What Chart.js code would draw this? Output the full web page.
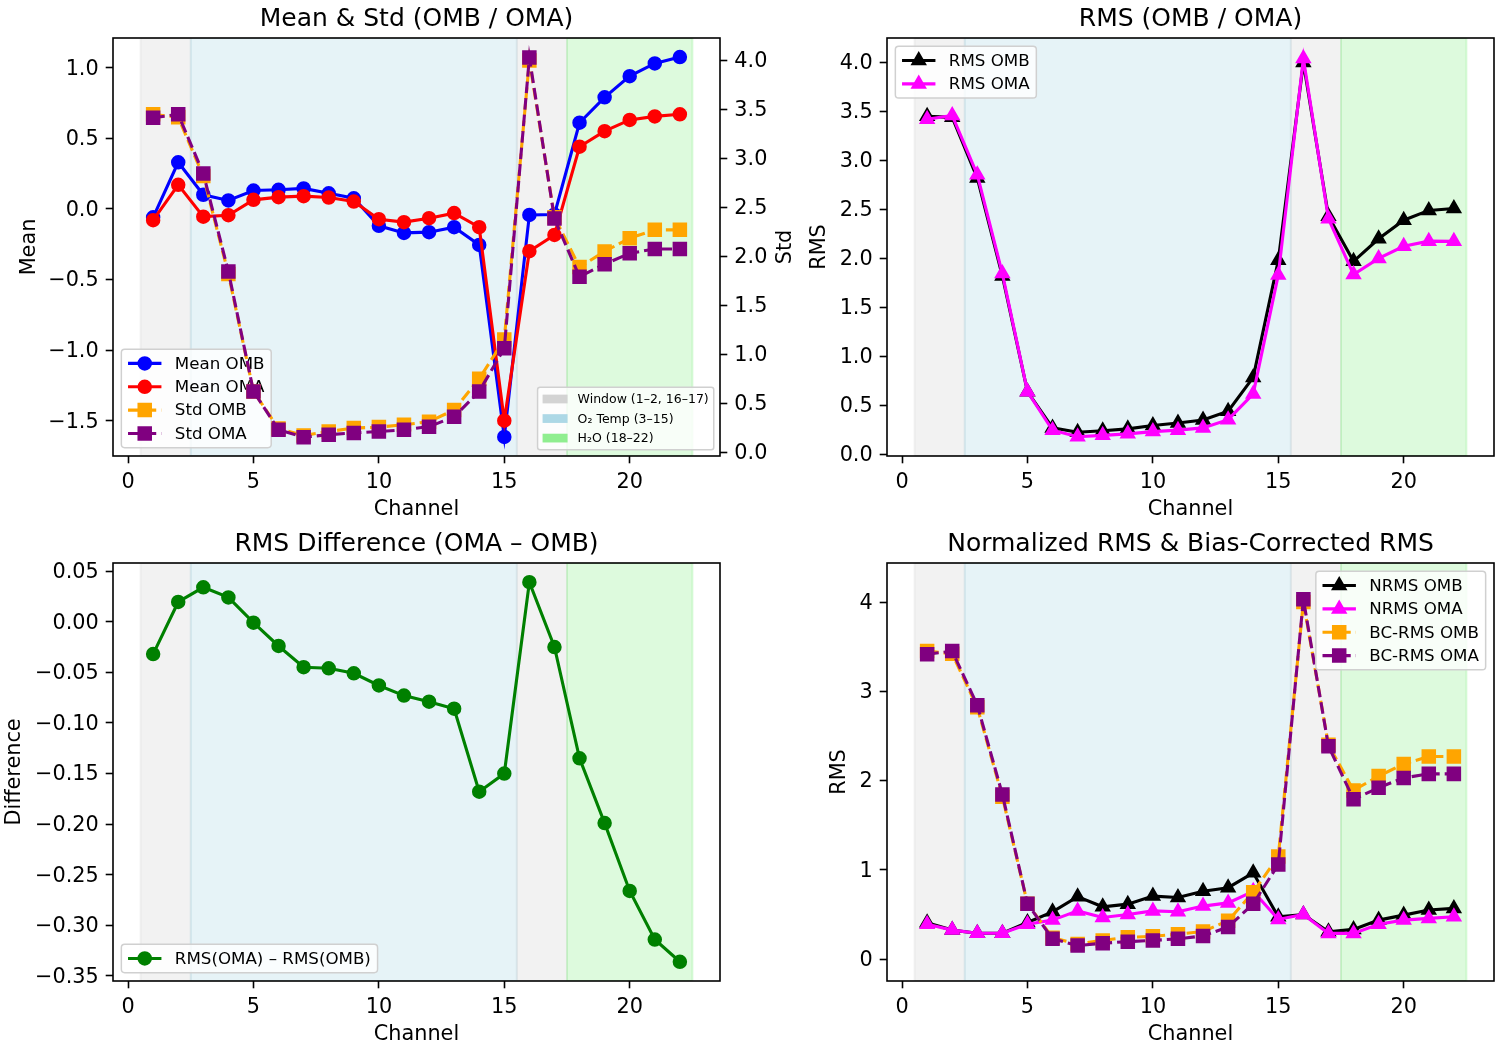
<!DOCTYPE html>
<html>
<head>
<meta charset="utf-8">
<script src="https://cdn.jsdelivr.net/npm/chart.js@4.4.1/dist/chart.umd.min.js"></script>
<style>
  body { margin: 0; background: #fff; }
  #fig { position: relative; width: 1500px; height: 1050px; background: #fff; }
  canvas { position: absolute; }
</style>
</head>
<body>
<div id="fig">
  <canvas id="c1" width="800" height="525" style="left:0;top:0"></canvas>
  <canvas id="c2" width="700" height="525" style="left:800px;top:0"></canvas>
  <canvas id="c3" width="800" height="525" style="left:0;top:525px"></canvas>
  <canvas id="c4" width="700" height="525" style="left:800px;top:525px"></canvas>
</div>
<script>
// channels
const channels = [1, 2, 3, 4, 5, 6, 7, 8, 9, 10, 11, 12, 13, 14, 15, 16, 17, 18, 19, 20, 21, 22];

// mean / std of OMB and OMA
const meanOmb = [-0.06, 0.33, 0.10, 0.06, 0.13, 0.135, 0.145, 0.11, 0.075, -0.12, -0.17, -0.165, -0.13, -0.255, -1.615, -0.043, -0.04, 0.61, 0.79, 0.94, 1.03, 1.075];
const meanOma = [-0.08, 0.17, -0.055, -0.045, 0.064, 0.083, 0.09, 0.08, 0.052, -0.073, -0.094, -0.066, -0.03, -0.13, -1.50, -0.30, -0.185, 0.44, 0.55, 0.63, 0.655, 0.67];
const stdOmb = [3.45, 3.42, 2.82, 1.82, 0.62, 0.24, 0.17, 0.21, 0.245, 0.255, 0.28, 0.31, 0.43, 0.75, 1.15, 4.00, 2.40, 1.89, 2.05, 2.185, 2.27, 2.27];
const stdOma = [3.415, 3.45, 2.845, 1.845, 0.62, 0.228, 0.152, 0.178, 0.196, 0.21, 0.227, 0.26, 0.36, 0.62, 1.06, 4.03, 2.385, 1.79, 1.92, 2.03, 2.075, 2.075];

// rms
const rmsOmb = [3.45, 3.44, 2.82, 1.82, 0.64, 0.27, 0.225, 0.24, 0.26, 0.295, 0.32, 0.35, 0.44, 0.785, 1.98, 4.00, 2.43, 1.97, 2.20, 2.39, 2.49, 2.51];
const rmsOma = [3.42, 3.46, 2.855, 1.845, 0.64, 0.246, 0.18, 0.194, 0.209, 0.232, 0.247, 0.27, 0.354, 0.617, 1.83, 4.04, 2.405, 1.835, 2.00, 2.124, 2.176, 2.174];
const rmsDiff = [-0.032, 0.0195, 0.034, 0.024, -0.001, -0.024, -0.045, -0.046, -0.051, -0.063, -0.073, -0.079, -0.086, -0.168, -0.150, 0.039, -0.025, -0.135, -0.199, -0.266, -0.314, -0.336];

// normalized rms
const nrmsOmb = [0.407, 0.325, 0.29, 0.29, 0.41, 0.53, 0.70, 0.586, 0.616, 0.706, 0.69, 0.76, 0.80, 0.967, 0.474, 0.50, 0.306, 0.333, 0.437, 0.493, 0.55, 0.568];
const nrmsOma = [0.39, 0.325, 0.29, 0.29, 0.39, 0.437, 0.54, 0.467, 0.50, 0.54, 0.53, 0.594, 0.63, 0.76, 0.445, 0.50, 0.288, 0.288, 0.39, 0.437, 0.456, 0.474];

// tick labels
const xTicks = [0, 5, 10, 15, 20];
const meanTicks = [-1.5, -1.0, -0.5, 0.0, 0.5, 1.0];
const stdTicks = [0.0, 0.5, 1.0, 1.5, 2.0, 2.5, 3.0, 3.5, 4.0];
const rmsTicks = [0.0, 0.5, 1.0, 1.5, 2.0, 2.5, 3.0, 3.5, 4.0];
const diffTicks = [-0.35, -0.30, -0.25, -0.20, -0.15, -0.10, -0.05, 0.00, 0.05];
const nrmsTicks = [0, 1, 2, 3, 4];

// channel groups
const spanStart = [0.5, 2.5, 15.5, 17.5];
const spanEnd = [2.5, 15.5, 17.5, 22.5];
const spanKind = [0, 1, 0, 2];
const spanLabels = ['Window (1–2, 16–17)', 'O₂ Temp (3–15)', 'H₂O (18–22)'];
const spanColors = [[211, 211, 211], [173, 216, 230], [144, 238, 144]];

const FONT = '"DejaVu Sans", sans-serif';
Chart.defaults.font.family = FONT;
const markerRadius = { circle: 6.25, rect: 8.84, triangle: 7.5 };
const DASH = [11.6, 5];

function series(label, values, color, marker, dashed, axis) {
  return {
    label: label,
    data: channels.map((c, i) => ({ x: c, y: values[i] })),
    borderColor: color, backgroundColor: color,
    pointBackgroundColor: color, pointBorderColor: color,
    borderWidth: 3.1, borderDash: dashed ? DASH : [],
    pointStyle: marker, pointRadius: markerRadius[marker], pointHoverRadius: markerRadius[marker],
    pointBorderWidth: 2, tension: 0, fill: false,
    yAxisID: axis || 'y', _marker: marker, _dashed: dashed
  };
}

const minus = s => s.replace('-', '\u2212');

function axis(pos, min, max, ticks, fmt, size) {
  const horiz = pos === 'bottom';
  return {
    type: 'linear', position: pos, min: min, max: max,
    afterBuildTicks: s => { s.ticks = ticks.map(v => ({ value: v })); },
    afterFit: s => {
      // fixed axis box, no extra label overflow padding
      if (s.isHorizontal()) s.height = size; else s.width = size;
      s.paddingLeft = 0; s.paddingRight = 0; s.paddingTop = 0; s.paddingBottom = 0;
    },
    grid: { display: true, drawOnChartArea: false, drawTicks: true, tickLength: 7.3, tickWidth: 1.6, tickColor: '#000', color: '#000' },
    border: { display: false },
    ticks: { color: '#000', font: { size: 20.8, family: FONT }, padding: 7, maxRotation: 0, autoSkip: false,
             labelOffset: horiz ? 0 : 1.5,
             callback: v => minus(fmt(v)) }
  };
}

function drawMarker(ctx, marker, x, y, color) {
  const r = markerRadius[marker];
  ctx.fillStyle = color; ctx.strokeStyle = color; ctx.lineWidth = 2;
  ctx.beginPath();
  if (marker === 'circle') {
    ctx.arc(x, y, r, 0, Math.PI * 2);
  } else if (marker === 'rect') {
    const s = r * Math.SQRT1_2;
    ctx.rect(x - s, y - s, 2 * s, 2 * s);
  } else {
    let a = 0;
    ctx.moveTo(x + Math.sin(a) * r, y - Math.cos(a) * r);
    a += 2 * Math.PI / 3;
    ctx.lineTo(x + Math.sin(a) * r, y - Math.cos(a) * r);
    a += 2 * Math.PI / 3;
    ctx.lineTo(x + Math.sin(a) * r, y - Math.cos(a) * r);
    ctx.closePath();
  }
  ctx.fill(); ctx.stroke();
}

function drawLegend(chart, items, loc, fs, rowH) {
  const ctx = chart.ctx, ca = chart.chartArea;
  ctx.save();
  ctx.font = fs + 'px ' + FONT;
  const pad = 0.4 * fs, sp = 0.5 * fs, hl = 2 * fs, tp = 0.8 * fs, bap = 0.5 * fs;
  const tw = Math.max(...items.map(it => ctx.measureText(it.label).width));
  const w = 2 * pad + hl + tp + tw;
  const h = 2 * pad + items.length * rowH + (items.length - 1) * sp;
  const x = loc.includes('left') ? ca.left + bap : ca.right - bap - w;
  const y = loc.includes('upper') ? ca.top + bap : ca.bottom - bap - h;
  ctx.beginPath();
  ctx.roundRect(x, y, w, h, 0.2 * fs);
  ctx.fillStyle = 'rgba(255,255,255,0.8)';
  ctx.fill();
  ctx.lineWidth = 1.5; ctx.strokeStyle = '#d0d0d0'; ctx.stroke();
  items.forEach((it, i) => {
    const cy = y + pad + rowH / 2 + i * (rowH + sp);
    const hx = x + pad;
    if (it.patch) {
      ctx.fillStyle = it.color;
      ctx.fillRect(hx, cy - 0.35 * fs, hl, 0.7 * fs);
    } else {
      ctx.strokeStyle = it.color; ctx.lineWidth = 3.1;
      ctx.setLineDash(it.dashed ? DASH : []);
      ctx.beginPath(); ctx.moveTo(hx, cy); ctx.lineTo(hx + hl, cy); ctx.stroke();
      ctx.setLineDash([]);
      drawMarker(ctx, it.marker, hx + hl / 2, cy, it.color);
    }
    ctx.fillStyle = '#000'; ctx.textAlign = 'left'; ctx.textBaseline = 'middle';
    ctx.fillText(it.label, hx + hl + tp, cy + 1);
  });
  ctx.restore();
}

function legendItems(chart) {
  return chart.data.datasets.map(d => ({ label: d.label, color: d.borderColor, marker: d._marker, dashed: d._dashed }));
}

function figPlugin(cfg) {
  return {
    id: 'fig',
    beforeDatasetsDraw(chart) {
      const ctx = chart.ctx, ca = chart.chartArea, xs = chart.scales.x;
      ctx.save();
      ctx.beginPath(); ctx.rect(ca.left, ca.top, ca.right - ca.left, ca.bottom - ca.top); ctx.clip();
      spanStart.forEach((s, i) => {
        const x0 = xs.getPixelForValue(s), x1 = xs.getPixelForValue(spanEnd[i]);
        const c = spanColors[spanKind[i]];
        ctx.fillStyle = `rgba(${c[0]},${c[1]},${c[2]},0.3)`;
        ctx.strokeStyle = ctx.fillStyle; ctx.lineWidth = 2;
        ctx.fillRect(x0, ca.top, x1 - x0, ca.bottom - ca.top);
        ctx.strokeRect(x0, ca.top, x1 - x0, ca.bottom - ca.top);
      });
      ctx.restore();
    },
    afterDatasetDraw(chart, args) {
      if (cfg.legendAfter === args.index) {
        drawLegend(chart, legendItems(chart).slice(0, 4), cfg.legendLoc, 16.7, 15);
      }
    },
    afterDatasetsDraw(chart) {
      const ctx = chart.ctx, ca = chart.chartArea;
      ctx.save();
      ctx.strokeStyle = '#000'; ctx.lineWidth = 1.6;
      ctx.strokeRect(ca.left, ca.top, ca.right - ca.left, ca.bottom - ca.top);
      ctx.restore();
    },
    afterDraw(chart) {
      const ctx = chart.ctx, ca = chart.chartArea;
      if (cfg.legendAfter === undefined) {
        drawLegend(chart, legendItems(chart), cfg.legendLoc, 16.7, 15);
      }
      if (cfg.spanLegend) {
        drawLegend(chart, spanLabels.map((l, i) => ({ label: l, color: `rgb(${spanColors[i].join(',')})`, patch: true })),
          'lower right', 12.5, 13.3);
      }
      ctx.save();
      ctx.fillStyle = '#000';
      ctx.textAlign = 'center';
      ctx.textBaseline = 'alphabetic';
      ctx.font = '25px ' + FONT;
      ctx.fillText(cfg.title, (ca.left + ca.right) / 2, ca.top - 12.5);
      ctx.font = '20.8px ' + FONT;
      ctx.fillText('Channel', (ca.left + ca.right) / 2, ca.bottom + 59);
      cfg.yLabels.forEach(l => {
        ctx.save();
        ctx.translate(l.x, (ca.top + ca.bottom) / 2);
        ctx.rotate(-Math.PI / 2);
        ctx.textBaseline = 'middle';
        ctx.fillText(l.text, 0, 0);
        ctx.restore();
      });
      ctx.restore();
    }
  };
}

function makeChart(id, datasets, scales, padRight, cfg) {
  datasets.forEach((d, i) => { d.order = -i; });
  return new Chart(document.getElementById(id), {
    type: 'line',
    data: { datasets: datasets },
    options: {
      responsive: false, animation: false, devicePixelRatio: 1,
      layout: { autoPadding: false, padding: { top: 38, left: 0, right: padRight, bottom: 0 } },
      plugins: { legend: { display: false }, tooltip: { enabled: false }, title: { display: false } },
      scales: scales
    },
    plugins: [figPlugin(cfg)]
  });
}

const xAxis = () => axis('bottom', -0.6, 23.6, xTicks, v => String(v), 69);

// Mean & Std
makeChart('c1', [
  series('Mean OMB', meanOmb, '#0000ff', 'circle', false, 'y'),
  series('Mean OMA', meanOma, '#ff0000', 'circle', false, 'y'),
  series('Std OMB', stdOmb, '#ffa500', 'rect', true, 'y2'),
  series('Std OMA', stdOma, '#800080', 'rect', true, 'y2')
], {
  x: xAxis(),
  y: axis('left', -1.75, 1.21, meanTicks, v => v.toFixed(1), 113),
  y2: axis('right', -0.04, 4.23, stdTicks, v => v.toFixed(1), 80)
}, 0, {
  title: 'Mean & Std (OMB / OMA)', legendLoc: 'lower left', legendAfter: 1, spanLegend: true,
  yLabels: [{ text: 'Mean', x: 30 }, { text: 'Std', x: 786 }]
});

// RMS
makeChart('c2', [
  series('RMS OMB', rmsOmb, '#000000', 'triangle', false),
  series('RMS OMA', rmsOma, '#ff00ff', 'triangle', false)
], {
  x: xAxis(),
  y: axis('left', -0.017, 4.25, rmsTicks, v => v.toFixed(1), 87)
}, 6, {
  title: 'RMS (OMB / OMA)', legendLoc: 'upper left',
  yLabels: [{ text: 'RMS', x: 20 }]
});

// RMS difference
makeChart('c3', [
  series('RMS(OMA) – RMS(OMB)', rmsDiff, '#008000', 'circle', false)
], {
  x: xAxis(),
  y: axis('left', -0.355, 0.058, diffTicks, v => v.toFixed(2), 113)
}, 80, {
  title: 'RMS Difference (OMA – OMB)', legendLoc: 'lower left',
  yLabels: [{ text: 'Difference', x: 15 }]
});

// Normalized & bias-corrected RMS
makeChart('c4', [
  series('NRMS OMB', nrmsOmb, '#000000', 'triangle', false),
  series('NRMS OMA', nrmsOma, '#ff00ff', 'triangle', false),
  series('BC-RMS OMB', stdOmb, '#ffa500', 'rect', true),
  series('BC-RMS OMA', stdOma, '#800080', 'rect', true)
], {
  x: xAxis(),
  y: axis('left', -0.245, 4.437, nrmsTicks, v => String(v), 87)
}, 6, {
  title: 'Normalized RMS & Bias-Corrected RMS', legendLoc: 'upper right',
  yLabels: [{ text: 'RMS', x: 40 }]
});
</script>
</body>
</html>
